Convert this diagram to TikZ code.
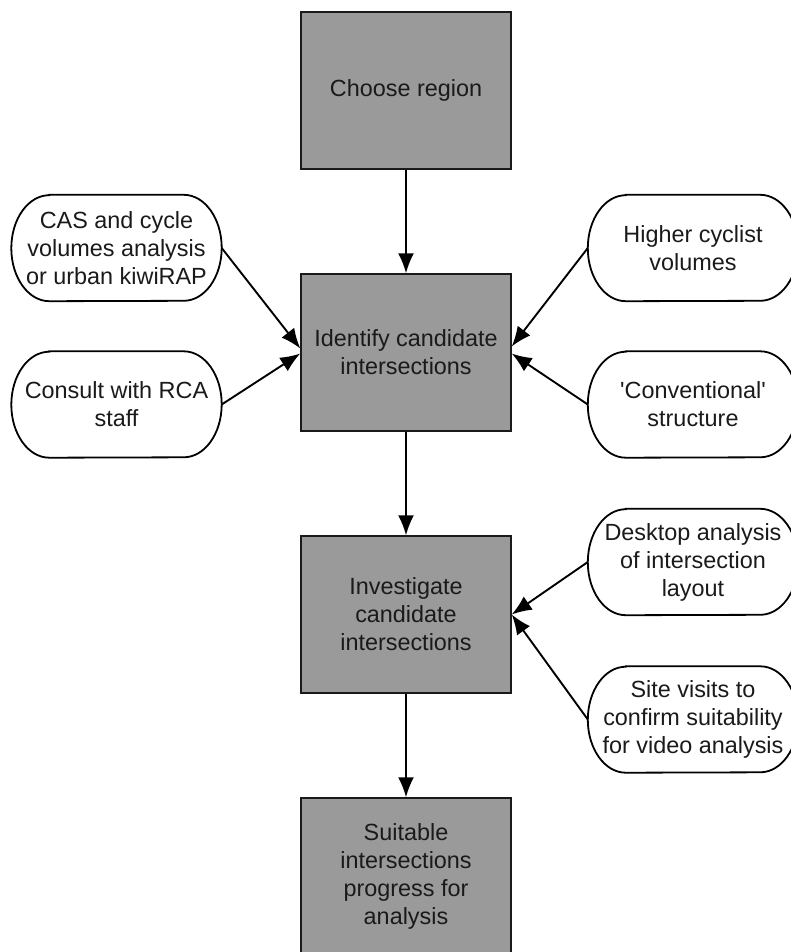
\documentclass[tikz,border=0pt]{standalone}
\usepackage{fontspec}
\setmainfont{Liberation Sans}
\usetikzlibrary{arrows.meta}
\definecolor{boxgray}{HTML}{9A9A9A}
\definecolor{inkgray}{HTML}{1A1A1A}
\tikzset{
  stepbox/.style={draw=inkgray, line width=1.4pt, fill=boxgray, minimum width=210pt, minimum height=157pt, align=center, text=inkgray, font=\fontsize{23.4}{28}\selectfont},
  sidebox/.style={minimum width=210pt, minimum height=106pt, inner sep=0pt, align=center, text=inkgray, font=\fontsize{23.4}{28}\selectfont},
  flow/.style={-{Latex[length=20pt,width=16pt]}, line width=1.9pt},
}
\begin{document}
\begin{tikzpicture}[x=1pt,y=-1pt]
\useasboundingbox (0,0) rectangle (790,952);
% main column
\node[stepbox] (choose) at (406,90.5) {Choose region};
\node[stepbox] (ident) at (406,352.5) {Identify candidate\\intersections};
\node[stepbox] (invest) at (406,614.5) {Investigate\\candidate\\intersections};
\node[stepbox] (suit) at (406,876.5) {Suitable\\intersections\\progress for\\analysis};
% side inputs
\node[sidebox] (cas) at (116.5,248) {CAS and cycle\\volumes analysis\\or urban kiwiRAP};
\node[sidebox] (consult) at (116.5,404.5) {Consult with RCA\\staff};
\node[sidebox] (higher) at (693,248) {Higher cyclist\\volumes};
\node[sidebox] (conv) at (693,404.5) {\textquotesingle Conventional\textquotesingle\\structure};
\node[sidebox] (desk) at (693,562) {Desktop analysis\\of intersection\\layout};
\node[sidebox] (site) at (693,719.5) {Site visits to\\confirm suitability\\for video analysis};
% outlines of the side inputs (elliptic ends)
\foreach \n in {cas,consult,higher,conv,desk,site}
  \draw[line width=1.8pt] ([xshift=38pt]\n.north west) -- ([xshift=-38pt]\n.north east)
    arc[start angle=90, end angle=-90, x radius=38pt, y radius=53pt]
    -- ([xshift=38pt]\n.south west)
    arc[start angle=270, end angle=90, x radius=38pt, y radius=53pt] -- cycle;
% connectors
\draw[flow] (choose) -- (ident);
\draw[flow] (ident) -- (invest);
\draw[flow] (invest) -- (suit);
\draw[flow] (cas.east) -- ([yshift=4pt]ident.west);
\draw[flow] (consult.east) -- ([yshift=-1pt]ident.west);
\draw[flow] (higher.west) -- ([yshift=6pt]ident.east);
\draw[flow] (conv.west) -- ([yshift=-1pt]ident.east);
\draw[flow] (desk.west) -- (invest.east);
\draw[flow] (site.west) -- (invest.east);
\end{tikzpicture}
\end{document}
